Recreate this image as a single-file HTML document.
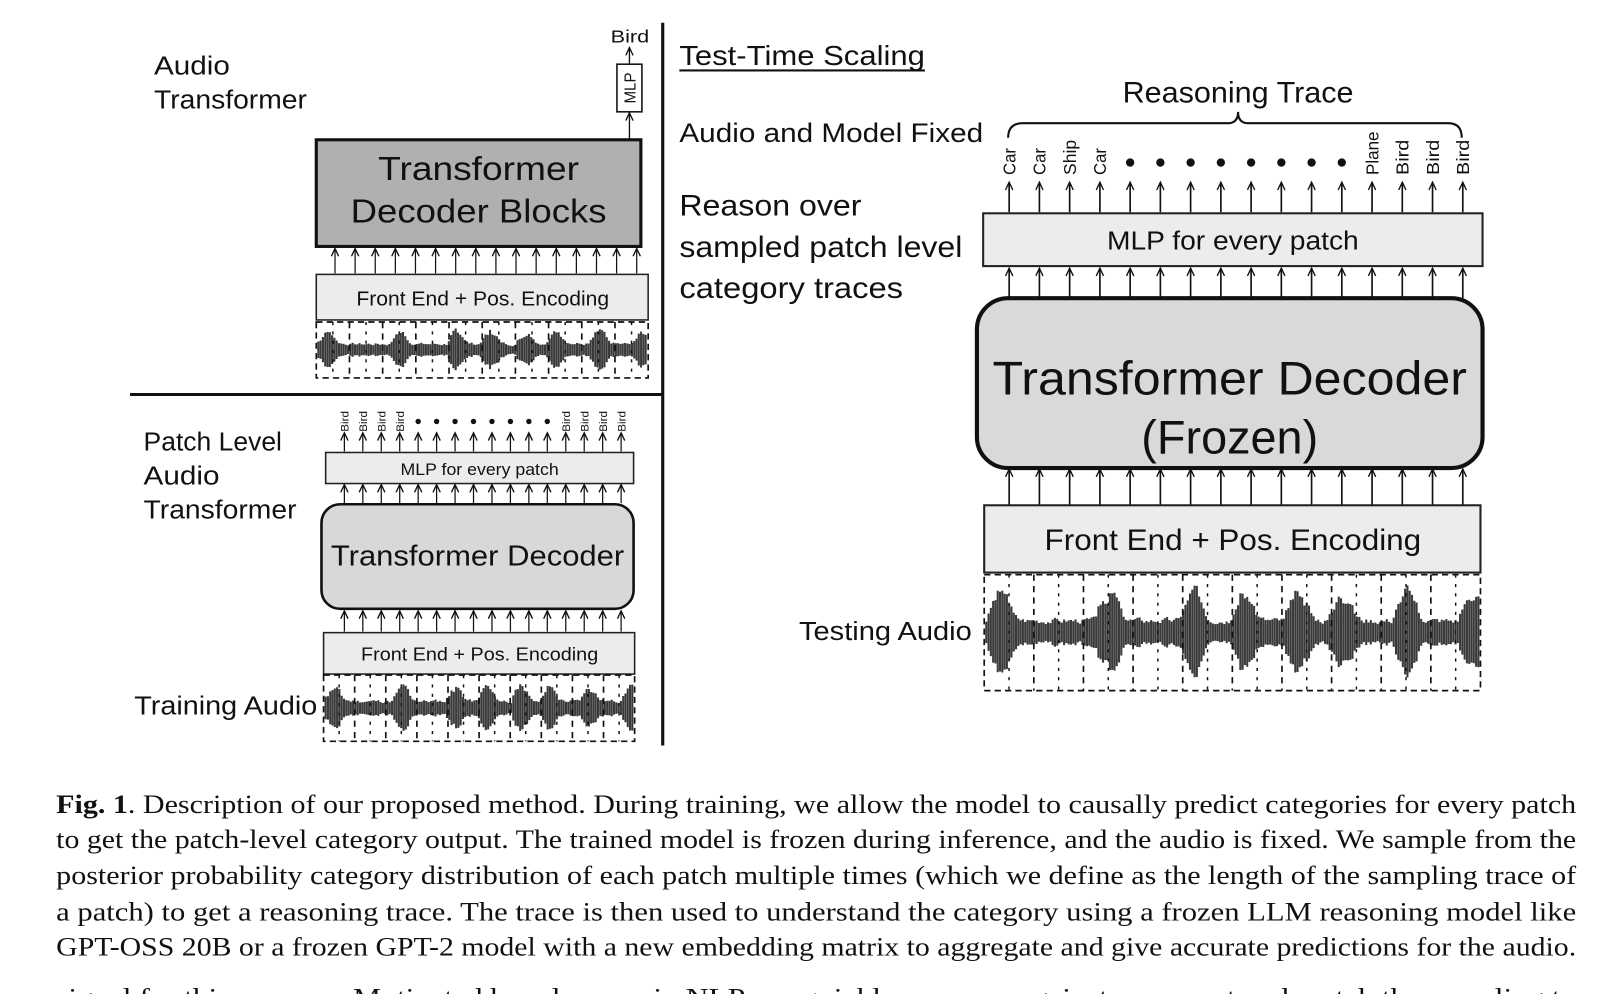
<!DOCTYPE html>
<html><head><meta charset="utf-8"><style>
html,body{margin:0;padding:0;background:#fff;}
svg{display:block;}
text{font-family:"Liberation Sans",sans-serif;fill:#111;}
.cap{font-family:"Liberation Serif",serif;font-size:25.5px;}
</style></head><body>
<svg id="s" width="1623" height="994" viewBox="0 0 1560 960" preserveAspectRatio="none" xmlns="http://www.w3.org/2000/svg">
<defs>
<marker id="ah" markerWidth="10" markerHeight="10" refX="8" refY="4" orient="auto" markerUnits="userSpaceOnUse">
<path d="M0.5,0.5 L8,4 L0.5,7.5" fill="none" stroke="#111" stroke-width="1.3"/>
</marker>
</defs>
<rect width="1560" height="960" fill="#fff"/>
<line x1="637" y1="22" x2="637" y2="720" stroke="#111" stroke-width="3"/>
<line x1="125" y1="381" x2="637" y2="381" stroke="#111" stroke-width="3"/>

<text x="148" y="72" font-size="25" textLength="73" lengthAdjust="spacingAndGlyphs">Audio</text>
<text x="148" y="105" font-size="25" textLength="147" lengthAdjust="spacingAndGlyphs">Transformer</text>
<text x="587" y="41" font-size="17" textLength="37" lengthAdjust="spacingAndGlyphs">Bird</text>
<line x1="605" y1="62" x2="605" y2="46" stroke="#111" stroke-width="1.3" marker-end="url(#ah)"/>
<rect x="593" y="62" width="24" height="46" fill="#fff" stroke="#111" stroke-width="1.5"/>
<text transform="translate(611,100) rotate(-90)" font-size="15" textLength="30" lengthAdjust="spacingAndGlyphs">MLP</text>
<line x1="605" y1="134" x2="605" y2="109" stroke="#111" stroke-width="1.3" marker-end="url(#ah)"/>
<rect x="304" y="135" width="312" height="103" fill="#b0b0b0" stroke="#111" stroke-width="3"/>
<text x="460" y="174" font-size="32" text-anchor="middle" textLength="193" lengthAdjust="spacingAndGlyphs">Transformer</text>
<text x="460" y="215" font-size="32" text-anchor="middle" textLength="246" lengthAdjust="spacingAndGlyphs">Decoder Blocks</text>
<g id="a1"></g>
<rect x="304" y="265" width="319" height="44" fill="#ececec" stroke="#222" stroke-width="1.5"/>
<text x="464" y="295" font-size="20" text-anchor="middle" textLength="243" lengthAdjust="spacingAndGlyphs">Front End + Pos. Encoding</text>
<g id="w1"></g>

<text x="138" y="435" font-size="25" textLength="133" lengthAdjust="spacingAndGlyphs">Patch Level</text>
<text x="138" y="468" font-size="25" textLength="73" lengthAdjust="spacingAndGlyphs">Audio</text>
<text x="138" y="501" font-size="25" textLength="147" lengthAdjust="spacingAndGlyphs">Transformer</text>
<text x="129" y="690" font-size="25" textLength="176" lengthAdjust="spacingAndGlyphs">Training Audio</text>
<g id="l2"></g>
<rect x="313" y="437" width="296" height="30" fill="#ececec" stroke="#222" stroke-width="1.5"/>
<text x="461" y="459" font-size="16" text-anchor="middle" textLength="152" lengthAdjust="spacingAndGlyphs">MLP for every patch</text>
<rect x="309" y="487" width="300" height="101" rx="18" fill="#d8d8d8" stroke="#111" stroke-width="2.5"/>
<text x="459" y="546" font-size="28" text-anchor="middle" textLength="282" lengthAdjust="spacingAndGlyphs">Transformer  Decoder</text>
<rect x="311" y="611" width="299" height="40" fill="#ececec" stroke="#222" stroke-width="1.5"/>
<text x="461" y="638" font-size="18" text-anchor="middle" textLength="228" lengthAdjust="spacingAndGlyphs">Front End + Pos. Encoding</text>
<g id="w2"></g>

<text x="653" y="63" font-size="27" textLength="236" lengthAdjust="spacingAndGlyphs">Test-Time  Scaling</text>
<line x1="653" y1="68" x2="889" y2="68" stroke="#111" stroke-width="2"/>
<text x="653" y="137" font-size="26" textLength="292" lengthAdjust="spacingAndGlyphs">Audio and Model Fixed</text>
<text x="653" y="208" font-size="29" textLength="175" lengthAdjust="spacingAndGlyphs">Reason over</text>
<text x="653" y="248" font-size="29" textLength="272" lengthAdjust="spacingAndGlyphs">sampled patch level</text>
<text x="653" y="288" font-size="29" textLength="215" lengthAdjust="spacingAndGlyphs">category traces</text>
<text x="1190" y="99" font-size="29" text-anchor="middle" textLength="222" lengthAdjust="spacingAndGlyphs">Reasoning Trace</text>
<path d="M969,133 Q969,119 983,119 L1180,119 Q1190,119 1190,108 Q1190,119 1200,119 L1392,119 Q1405,119 1405,133" fill="none" stroke="#111" stroke-width="2"/>
<g id="l3"></g>
<rect x="945" y="206" width="480" height="51" fill="#ececec" stroke="#222" stroke-width="2"/>
<text x="1185" y="241" font-size="25" text-anchor="middle" textLength="242" lengthAdjust="spacingAndGlyphs">MLP for every patch</text>
<rect x="939" y="288" width="486" height="164" rx="30" fill="#d9d9d9" stroke="#111" stroke-width="4"/>
<text x="1182" y="381" font-size="46" text-anchor="middle" textLength="456" lengthAdjust="spacingAndGlyphs">Transformer  Decoder</text>
<text x="1182" y="438" font-size="46" text-anchor="middle" textLength="170" lengthAdjust="spacingAndGlyphs">(Frozen)</text>
<rect x="946" y="488" width="477" height="65" fill="#ececec" stroke="#222" stroke-width="2"/>
<text x="1185" y="531" font-size="29" text-anchor="middle" textLength="362" lengthAdjust="spacingAndGlyphs">Front End + Pos. Encoding</text>
<text x="768" y="618" font-size="25" textLength="166" lengthAdjust="spacingAndGlyphs">Testing  Audio</text>
<g id="w3"></g>

<text class="cap" x="54" y="785" textLength="1461" lengthAdjust="spacingAndGlyphs"><tspan font-weight="bold">Fig. 1</tspan>. Description of our proposed method. During training, we allow the model to causally predict categories for every patch</text>
<text class="cap" x="54" y="819" textLength="1461" lengthAdjust="spacingAndGlyphs">to get the patch-level category output. The trained model is frozen during inference, and the audio is fixed. We sample from the</text>
<text class="cap" x="54" y="854" textLength="1461" lengthAdjust="spacingAndGlyphs">posterior probability category distribution of each patch multiple times (which we define as the length of the sampling trace of</text>
<text class="cap" x="54" y="889" textLength="1461" lengthAdjust="spacingAndGlyphs">a patch) to get a reasoning trace. The trace is then used to understand the category using a frozen LLM reasoning model like</text>
<text class="cap" x="54" y="923" textLength="1461" lengthAdjust="spacingAndGlyphs">GPT-OSS 20B or a frozen GPT-2 model with a new embedding matrix to aggregate and give accurate predictions for the audio.</text>
<text class="cap" x="54" y="972" textLength="1461" lengthAdjust="spacingAndGlyphs">signal for this purpose. Motivated by advances in NLP, we quickly came up against a concept and match the sampling to</text>
</svg>
<script>
(function(){
var NS="http://www.w3.org/2000/svg";
function el(p,t,a){var e=document.createElementNS(NS,t);for(var k in a)e.setAttribute(k,a[k]);p.appendChild(e);return e;}
function arrows(g,x0,x1,n,y0,y1,sw){for(var i=0;i<n;i++){var x=x0+(x1-x0)*i/(n-1);el(g,'line',{x1:x,y1:y0,x2:x,y2:y1,stroke:'#111','stroke-width':sw||1.2,'marker-end':'url(#ah)'});}}
var g=document.getElementById('a1');
arrows(g,322,612,16,264,240);
var g2=document.getElementById('l2');
arrows(g2,331,597,16,436,418);arrows(g2,331,597,16,486,468);arrows(g2,331,597,16,610,590);
for(var i=0;i<16;i++){var x=331+266*i/15;
 if(i<4||i>11){var t=el(g2,'text',{transform:'translate('+(x+4)+',417) rotate(-90)','font-size':'11',textLength:'20',lengthAdjust:'spacingAndGlyphs'});t.textContent='Bird';}
 else el(g2,'circle',{cx:x,cy:407,r:2.6,fill:'#111'});}
var g3=document.getElementById('l3');
arrows(g3,970,1406,16,205,176,1.6);arrows(g3,970,1406,16,288,259,1.6);arrows(g3,970,1406,16,488,453,1.6);
var labs=['Car','Car','Ship','Car','','','','','','','','','Plane','Bird','Bird','Bird'];
for(var i=0;i<16;i++){var x=970+436*i/15;
 if(labs[i]){var L=labs[i].length*8+2;var t=el(g3,'text',{transform:'translate('+(x+6)+',169) rotate(-90)','font-size':'17',textLength:L,lengthAdjust:'spacingAndGlyphs'});t.textContent=labs[i];}
 else el(g3,'circle',{cx:x,cy:157,r:4,fill:'#111'});}
function wave(id,x0,x1,y0,y1,seed){var g=document.getElementById(id);var r=seed;function rnd(){r=(r*9301+49297)%233280;return r/233280;}
 var cy=(y0+y1)/2,h=(y1-y0)/2,d='';var w=x1-x0;
 var peaks=[0.03,0.25,0.42,0.52,0.63,0.72,0.85,0.98];
 var prev=0.2;
 for(var x=x0+2;x<x1-1;x+=2.2){var f=(x-x0)/w;var a=0.12+0.18*rnd();for(var k=0;k<peaks.length;k++){var dd=Math.abs(f-peaks[k]);if(dd<0.025)a+=(0.75-dd*20)*(0.4+0.6*rnd());}
  if(a>0.95)a=0.95;a=(a+prev)/2;prev=a;d+='M'+x.toFixed(1)+','+(cy-a*h).toFixed(1)+'V'+(cy+a*h*0.95).toFixed(1);}
 el(g,'path',{d:d,stroke:'#3a3a3a','stroke-width':2,fill:'none'});
 el(g,'rect',{x:x0,y:y0,width:w,height:y1-y0,fill:'none',stroke:'#111','stroke-width':1.6,'stroke-dasharray':'6,4'});
 var n=10;for(var i=1;i<n;i++){var x=x0+w*i/n;el(g,'line',{x1:x,y1:y0,x2:x,y2:y1,stroke:'#111','stroke-width':1.6,'stroke-dasharray':'6,5'});
  el(g,'line',{x1:x-w/(2*n),y1:y0,x2:x-w/(2*n),y2:y1,stroke:'#111','stroke-width':1.4,'stroke-dasharray':'3,6'});}
 el(g,'line',{x1:x1-w/(2*n),y1:y0,x2:x1-w/(2*n),y2:y1,stroke:'#111','stroke-width':1.4,'stroke-dasharray':'3,6'});}
wave('w1',304,623,311,365,7);wave('w2',311,610,652,716,11);wave('w3',946,1423,555,667,3);
})();
</script>
</body></html>
